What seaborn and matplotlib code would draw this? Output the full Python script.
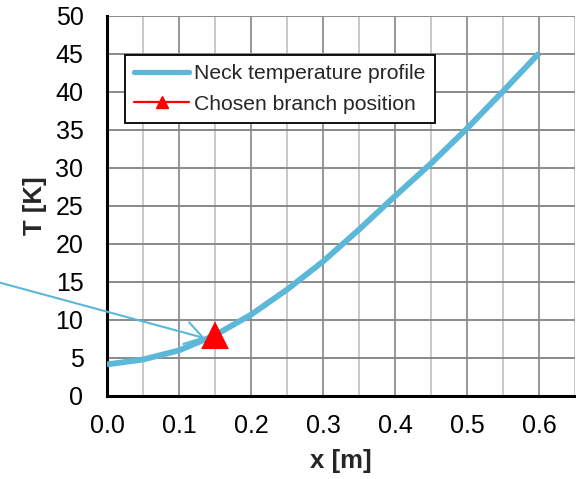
import numpy as np
import pandas as pd
import matplotlib
matplotlib.use("Agg")
import matplotlib.pyplot as plt
from matplotlib.lines import Line2D
import seaborn as sns

# Neck temperature profile
x_pos = [0.0, 0.05, 0.10, 0.15, 0.20, 0.25, 0.30, 0.35, 0.40, 0.45, 0.50, 0.55, 0.60]
temp_k = [4.15, 4.8, 6.0, 8.0, 10.7, 14.0, 17.7, 21.9, 26.3, 30.6, 35.2, 40.1, 45.1]

# Chosen branch position
branch_x = [0.15]
branch_t = [8.0]

line_color = "#5BB8D8"

sns.set_theme(style="white")
plt.rcParams["font.family"] = ["Liberation Sans", "DejaVu Sans"]

df = pd.DataFrame({"x": x_pos, "T": temp_k})

fig = plt.figure(figsize=(5.76, 4.79), dpi=100)
ax = fig.add_axes([0.1858, 0.1733, 0.8125, 0.7933])

# grid: light minor verticals, darker major verticals/horizontals
ax.set_xlim(0, 0.65)
ax.set_ylim(0, 50)
ax.set_xticks(np.arange(0, 0.61, 0.1))
ax.set_xticks(np.arange(0.05, 0.66, 0.1), minor=True)
ax.set_yticks(np.arange(0, 51, 5))
ax.grid(which="major", axis="y", color="#8a8a8a", linewidth=1.4)
ax.grid(which="major", axis="x", color="#8f8f8f", linewidth=1.3)
ax.grid(which="minor", axis="x", color="#c4c4c4", linewidth=1.3)
ax.set_axisbelow(True)

sns.lineplot(data=df, x="x", y="T", ax=ax, color=line_color, linewidth=4.2,
             solid_capstyle="butt", legend=False, zorder=3)
sns.scatterplot(x=branch_x, y=branch_t, ax=ax, marker="^", color="red", s=400,
                edgecolor="none", zorder=4, legend=False)

ax.annotate("", xy=(0.136, 7.6), xytext=(-0.16, 15.2),
            xycoords="data", textcoords="data", annotation_clip=False,
            arrowprops=dict(arrowstyle="->, head_length=0.42, head_width=0.27",
                            color=line_color, lw=1.5, mutation_scale=30,
                            shrinkA=0, shrinkB=0))

ax.set_xticklabels([f"{v:.1f}" for v in np.arange(0, 0.61, 0.1)])
ax.tick_params(axis="both", which="both", length=0, labelsize=18,
               labelcolor="black")
ax.tick_params(axis="x", pad=13)
ax.tick_params(axis="y", pad=17)
ax.set_xlabel("x [m]", fontsize=18.5, fontweight="bold", labelpad=8)
ax.set_ylabel("T [K]", fontsize=18.5, fontweight="bold", labelpad=6)

for side in ["top", "right"]:
    ax.spines[side].set_visible(False)
for side in ["left", "bottom"]:
    ax.spines[side].set_color("black")
    ax.spines[side].set_linewidth(2.2)

handles = [
    Line2D([0], [0], color=line_color, linewidth=3.8, solid_capstyle="round"),
    Line2D([0], [0], color="red", linewidth=1.6, marker="^", markersize=8),
]
leg = ax.legend(handles, ["Neck temperature profile", "Chosen branch position"],
                loc="upper left", bbox_to_anchor=(0.0385, 0.897), fontsize=15.2,
                frameon=True, fancybox=False, framealpha=1, edgecolor="black",
                handlelength=2.6, handletextpad=0.25, borderpad=0.43,
                labelspacing=0.55, borderaxespad=0)
leg.get_frame().set_linewidth(1.3)

fig.savefig("out.png", dpi=100)
